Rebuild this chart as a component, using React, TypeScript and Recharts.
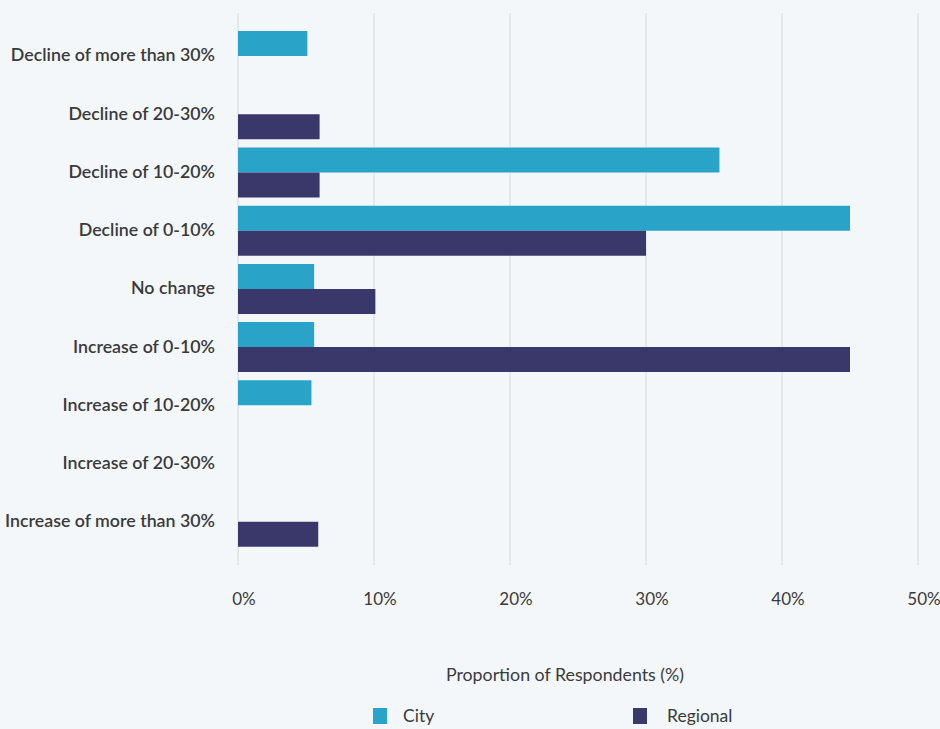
import { BarChart, Bar, XAxis, YAxis, CartesianGrid, Label } from 'recharts';

const categories = [
  'Decline of more than 30%',
  'Decline of 20-30%',
  'Decline of 10-20%',
  'Decline of 0-10%',
  'No change',
  'Increase of 0-10%',
  'Increase of 10-20%',
  'Increase of 20-30%',
  'Increase of more than 30%',
];
const cityValues = [5.1, 0, 35.4, 45.0, 5.6, 5.6, 5.4, 0, 0];
const regionalValues = [0, 6.0, 6.0, 30.0, 10.1, 45.0, 0, 0, 5.9];
const xTicks = [0, 10, 20, 30, 40, 50];

const colors = {
  city: '#2aa3c9',
  regional: '#3a376a',
};

const data = categories.map((name, i) => ({
  name,
  city: cityValues[i],
  regional: regionalValues[i],
}));

if (typeof document !== 'undefined') {
  document.body.style.margin = '0';
}

const font = 'Lato, "Open Sans", sans-serif';

export default function App() {
  return (
    <div style={{ position: 'relative', width: 940, height: 729, background: '#f3f7fa', fontFamily: font }}>
      <BarChart
        width={940}
        height={729}
        data={data}
        layout="vertical"
        barSize={25}
        barGap={0}
        margin={{ top: 13, right: 22, left: 0, bottom: 0 }}
      >
        <CartesianGrid horizontal={false} stroke="#d3d8dd" />
        <XAxis
          type="number"
          domain={[0, 50]}
          ticks={xTicks}
          tickFormatter={(v: number) => `${v}%`}
          axisLine={false}
          tickLine={false}
          tickMargin={22}
          height={164}
          tick={{ fontSize: 17, fill: '#3a3a3a', fontFamily: font, dx: 6 }}
        >
          <Label
            value="Proportion of Respondents (%)"
            position="center"
            dx={-13}
            dy={28}
            style={{ fontSize: 17.8, fill: '#3a3a3a', fontFamily: font }}
          />
        </XAxis>
        <YAxis
          type="category"
          dataKey="name"
          width={238}
          axisLine={false}
          tickLine={false}
          tickMargin={17}
          padding={{ top: 14, bottom: 14 }}
          interval={0}
          tick={{ fontSize: 17.8, fill: '#3a3a3a', fontFamily: font, fontWeight: 600, dy: -1 }}
        />
        <Bar dataKey="city" name="City" fill={colors.city} isAnimationActive={false} />
        <Bar dataKey="regional" name="Regional" fill={colors.regional} isAnimationActive={false} />
      </BarChart>
      <div style={{ position: 'absolute', top: 705, left: 373, display: 'flex', alignItems: 'center', fontSize: 17.5, color: '#3a3a3a' }}>
        <span style={{ width: 14, height: 16, background: colors.city, display: 'inline-block', marginRight: 16 }} />
        <span>City</span>
      </div>
      <div style={{ position: 'absolute', top: 705, left: 633, display: 'flex', alignItems: 'center', fontSize: 17.5, color: '#3a3a3a' }}>
        <span style={{ width: 14, height: 16, background: colors.regional, display: 'inline-block', marginRight: 20 }} />
        <span>Regional</span>
      </div>
    </div>
  );
}
